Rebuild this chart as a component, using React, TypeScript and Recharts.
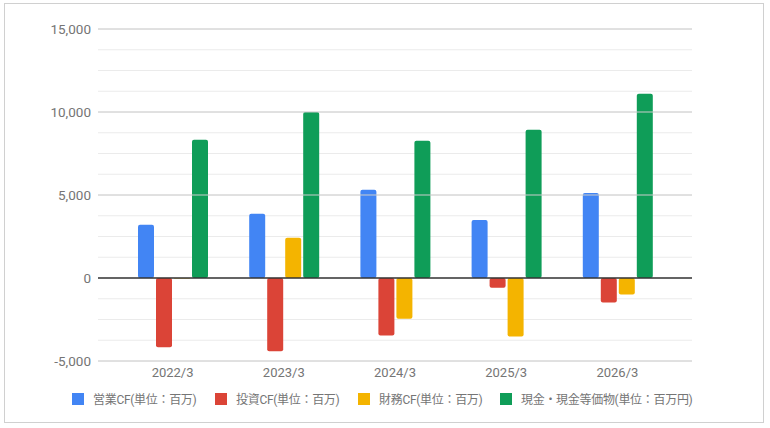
import { BarChart, Bar, XAxis, YAxis, CartesianGrid, ReferenceLine } from 'recharts';

const years = ['2022/3', '2023/3', '2024/3', '2025/3', '2026/3'];
const operatingCF = [3210, 3870, 5310, 3500, 5120];
const investingCF = [-4170, -4410, -3460, -580, -1480];
const financingCF = [-30, 2430, -2450, -3530, -1000];
const cashBalance = [8330, 10000, 8270, 8930, 11100];

const yTicks = [-5000, -3750, -2500, -1250, 0, 1250, 2500, 3750, 5000, 6250, 7500, 8750, 10000, 11250, 12500, 13750, 15000];
const majorTicks = [-5000, 5000, 10000, 15000];

const series = [
    { key: 'op', name: '営業CF(単位：百万)', color: '#4285f4' },
    { key: 'inv', name: '投資CF(単位：百万)', color: '#db4437' },
    { key: 'fin', name: '財務CF(単位：百万)', color: '#f4b400' },
    { key: 'cash', name: '現金・現金等価物(単位：百万円)', color: '#0f9d58' },
];
// legend item left edges, as laid out in the original
const legendLeft = [72, 215, 358, 500];

const data = years.map((year, i) => ({
    year,
    op: operatingCF[i],
    inv: investingCF[i],
    fin: financingCF[i],
    cash: cashBalance[i],
}));

const font = 'Roboto, "Noto Sans CJK JP", sans-serif';

function YTick(props: any) {
    const v = props.payload.value;
    if (v % 5000 !== 0) return null;
    return (
        <text x={props.x} y={props.y} dy={4.5} textAnchor="end" fill="#757575" fontSize={13.5} fontFamily={font}>
            {v.toLocaleString('en-US')}
        </text>
    );
}

export default function App() {
    return (
        <div style={{ position: 'absolute', left: 0, top: 0, width: 770, height: 428, background: '#fff' }}>
            <div
                style={{
                    position: 'absolute',
                    left: 4,
                    top: 3,
                    width: 758,
                    height: 418,
                    border: '1px solid #d0d0d0',
                }}
            />
            <div style={{ position: 'absolute', left: 0, top: 0 }}>
                <BarChart
                    width={770}
                    height={428}
                    data={data}
                    margin={{ top: 29, right: 78, bottom: 37, left: 8 }}
                    barSize={16}
                    barGap={2}
                >
                    <CartesianGrid vertical={false} stroke="#ebebeb" />
                    {majorTicks.map((t) => (
                        <ReferenceLine key={t} y={t} stroke="#cccccc" />
                    ))}
                    <ReferenceLine y={0} stroke="#333333" strokeWidth={1.3} />
                    <XAxis
                        dataKey="year"
                        axisLine={false}
                        tickLine={false}
                        tickSize={0}
                        tickMargin={7}
                        height={30}
                        padding={{ left: 19, right: 19 }}
                        tick={{ fill: '#757575', fontSize: 13, fontFamily: font }}
                    />
                    <YAxis
                        width={90}
                        domain={[-5000, 15000]}
                        ticks={yTicks}
                        interval={0}
                        axisLine={false}
                        tickLine={false}
                        tickSize={5}
                        tickMargin={2}
                        tick={<YTick />}
                    />
                    {series.map((s) => (
                        <Bar
                            key={s.key}
                            dataKey={s.key}
                            name={s.name}
                            fill={s.color}
                            radius={2}
                            isAnimationActive={false}
                        />
                    ))}
                </BarChart>
            </div>
            {series.map((s, i) => (
                <div
                    key={s.key}
                    style={{
                        position: 'absolute',
                        left: legendLeft[i],
                        top: 390,
                        display: 'flex',
                        alignItems: 'center',
                        fontFamily: font,
                        fontSize: 12,
                        color: '#757575',
                        whiteSpace: 'nowrap',
                        letterSpacing: -0.3,
                    }}
                >
                    <span style={{ width: 12, height: 12, background: s.color, marginRight: 9, display: 'inline-block' }} />
                    <span>{s.name}</span>
                </div>
            ))}
        </div>
    );
}
